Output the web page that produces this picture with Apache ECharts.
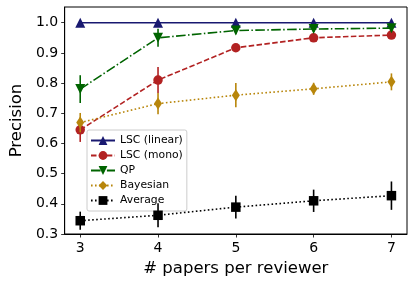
<!DOCTYPE html>
<html><head><meta charset="utf-8">
<script src="https://cdn.jsdelivr.net/npm/echarts@6/dist/echarts.min.js"></script>
<style>html,body{margin:0;padding:0;background:#fff}#c{width:415px;height:284px}</style>
</head><body><div id="c"></div>
<script>
const xValues = [3, 4, 5, 6, 7];
const xTicks = [3, 4, 5, 6, 7];
const yTicks = [0.3, 0.4, 0.5, 0.6, 0.7, 0.8, 0.9, 1.0];
const names = ['LSC (linear)', 'LSC (mono)', 'QP', 'Bayesian', 'Average'];
const lscLinear = [1.0, 1.0, 1.0, 1.0, 1.0];
const lscLinearErr = [0.003, 0.003, 0.003, 0.003, 0.003];
const lscMono = [0.645, 0.81, 0.917, 0.95, 0.959];
const lscMonoErr = [0.04, 0.043, 0.012, 0.01, 0.01];
const qp = [0.78, 0.95, 0.974, 0.979, 0.982];
const qpErr = [0.046, 0.03, 0.012, 0.01, 0.01];
const bayesian = [0.669, 0.732, 0.76, 0.781, 0.804];
const bayesianErr = [0.032, 0.035, 0.04, 0.02, 0.028];
const average = [0.344, 0.362, 0.389, 0.41, 0.427];
const averageErr = [0.03, 0.04, 0.038, 0.037, 0.047];

const seriesVals = [lscLinear, lscMono, qp, bayesian, average];
const seriesErrs = [lscLinearErr, lscMonoErr, qpErr, bayesianErr, averageErr];
const colors = ['#191970', '#b22222', '#006400', '#b8860b', '#000000'];
const dashes = ['solid', [5.5, 2.4], [9.6, 2.4, 1.5, 2.4], [1.6, 2.4], [1.6, 2.4]];
const symbols = ['triangle', 'circle', 'triangle', 'diamond', 'rect'];
const symRot = [0, 0, 180, 0, 0];
const symSizes = [10, 9.5, 10, [8, 12], 9.5];

const series = [];
seriesVals.forEach((vals, i) => {
  const errData = xValues.map((x, k) => [x, vals[k] - seriesErrs[i][k], vals[k] + seriesErrs[i][k]]);
  series.push({
    type: 'custom', name: names[i] + ' err', z: 2 * i + 1, silent: true, clip: true,
    data: errData,
    renderItem: (params, api) => {
      const p1 = api.coord([api.value(0), api.value(1)]);
      const p2 = api.coord([api.value(0), api.value(2)]);
      return { type: 'line', shape: { x1: p1[0], y1: p1[1], x2: p2[0], y2: p2[1] },
        style: { stroke: colors[i], lineWidth: 1.6 } };
    }
  });
  series.push({
    type: 'line', name: names[i], z: 2 * i + 2,
    data: xValues.map((x, k) => [x, vals[k]]),
    symbol: symbols[i], symbolRotate: symRot[i], symbolSize: symSizes[i],
    showAllSymbol: true,
    lineStyle: { color: colors[i], width: 1.6, type: dashes[i] },
    itemStyle: { color: colors[i], borderWidth: 0, opacity: 1 },
    emphasis: { disabled: true },
    animation: false
  });
});

const chart = echarts.init(document.getElementById('c'), null, { renderer: 'canvas' });
chart.setOption({
  animation: false,
  color: colors,
  grid: { left: 58, right: 8, top: 7, bottom: 50, show: true, borderColor: '#000', borderWidth: 1, backgroundColor: 'transparent' },
  legend: {
    data: names, orient: 'vertical', left: 87, top: 130,
    padding: [5, 4, 5, 3], itemGap: 4, itemWidth: 24, itemHeight: 11,
    backgroundColor: 'rgba(255,255,255,0.8)', borderColor: '#cccccc', borderWidth: 1, borderRadius: 2,
    textStyle: { fontFamily: 'DejaVu Sans', fontSize: 10.8, color: '#000' },
    selectedMode: false
  },
  xAxis: {
    type: 'value', min: 2.8, max: 7.2,
    name: '# papers per reviewer', nameLocation: 'middle', nameGap: 26,
    nameTextStyle: { fontFamily: 'DejaVu Sans', fontSize: 16.5, color: '#000' },
    axisLine: { show: true, onZero: false, lineStyle: { color: '#000', width: 1 } },
    axisTick: { show: true, length: 3.5, lineStyle: { color: '#000', width: 0.8 }, customValues: xTicks },
    axisLabel: { fontFamily: 'DejaVu Sans', fontSize: 14, color: '#000', margin: 7.5, customValues: xTicks, formatter: v => String(v) },
    splitLine: { show: false }
  },
  yAxis: {
    type: 'value', min: 0.3, max: 1.052,
    name: 'Precision', nameLocation: 'middle', nameGap: 34,
    nameTextStyle: { fontFamily: 'DejaVu Sans', fontSize: 16.5, color: '#000' },
    axisLine: { show: true, onZero: false, lineStyle: { color: '#000', width: 1 } },
    axisTick: { show: true, length: 3.5, lineStyle: { color: '#000', width: 0.8 }, customValues: yTicks },
    axisLabel: { fontFamily: 'DejaVu Sans', fontSize: 14, color: '#000', margin: 6.5, customValues: yTicks, formatter: v => v.toFixed(1) },
    splitLine: { show: false }
  },
  series: series
});
</script></body></html>
